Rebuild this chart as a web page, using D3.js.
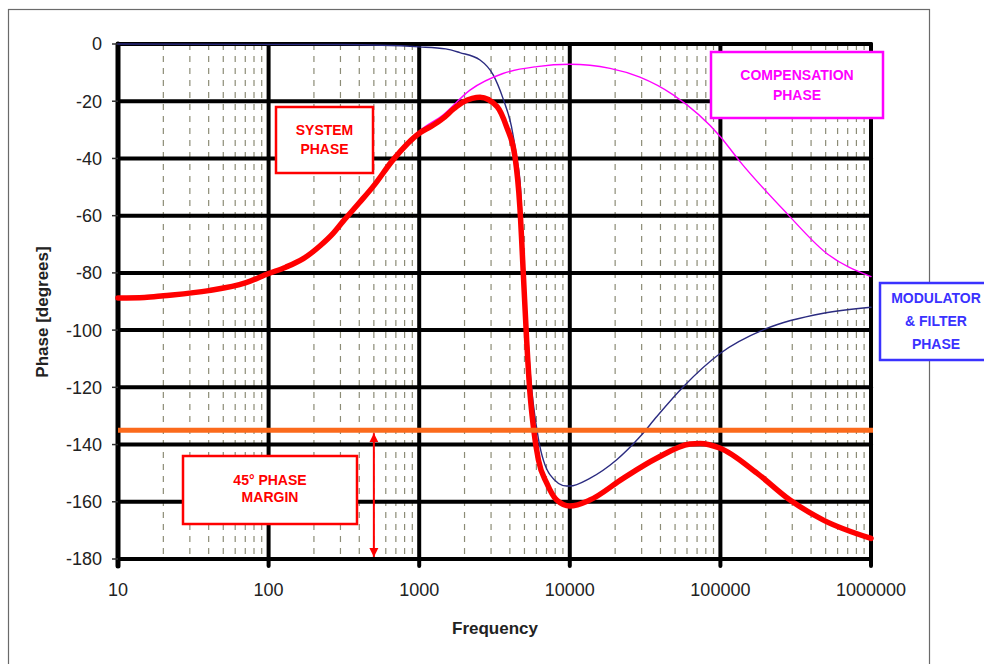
<!DOCTYPE html>
<html>
<head>
<meta charset="utf-8">
<script src="https://cdn.jsdelivr.net/npm/d3@7"></script>
<style>
  body { margin: 0; background: #fff; }
  svg { display: block; }
</style>
</head>
<body>
<div id="chart"></div>
<script>
/////////////////////////////////////////////////////////////
//////////////////////// DATA ///////////////////////////////
/////////////////////////////////////////////////////////////

const freqTicks = [10, 100, 1000, 10000, 100000, 1000000];
const phaseTicks = [0, -20, -40, -60, -80, -100, -120, -140, -160, -180];

//system phase (thick red)
const systemFreq = [10, 15, 20, 40, 70, 100, 130, 170, 220, 270, 312, 400, 500, 670, 1012, 1200, 1438, 1700, 1950, 2250, 2535, 3290, 3800, 4325, 4660, 4910, 5170, 5440, 5730, 6190, 7030, 8180, 10000, 13580, 22600, 37700, 62800, 73300, 100000, 175000, 290000, 483000, 1000000];
const systemPhase = [-88.8, -88.6, -88, -86.2, -83.5, -80.2, -78, -75, -70.5, -66, -62, -55.5, -49.5, -40.5, -31, -28.8, -26, -22.6, -20.3, -19, -18.6, -21.9, -28.9, -39.4, -56.9, -80, -103.5, -122, -133.8, -145.4, -153.5, -159.4, -161.5, -159.4, -151.8, -144.8, -139.8, -139.6, -141.3, -150, -159.4, -166.4, -172.8];

//compensation phase (magenta)
const compFreq = [10, 20, 40, 70, 100, 130, 170, 220, 270, 312, 400, 500, 670, 1000, 1438, 2174, 3600, 6050, 10000, 18500, 29200, 48600, 100000, 135000, 276000, 508000, 1000000];
const compPhase = [-88.8, -88, -86.2, -83.5, -80.2, -78, -75, -70.5, -66, -62, -55.5, -49.5, -40.5, -30.5, -24.8, -16.1, -10.3, -7.9, -7.1, -8.5, -11.6, -17.8, -32.4, -41.1, -59.2, -73.2, -81.3];

//modulator & filter phase (navy)
const modFreq = [10, 300, 1000, 1500, 1860, 2535, 3100, 3600, 4100, 4430, 4700, 4900, 5170, 5440, 5730, 6190, 7400, 9500, 10000, 13580, 20400, 29200, 37700, 56700, 100000, 203000, 483000, 1000000];
const modPhase = [0, -0.2, -1, -1.7, -3, -5.6, -10.8, -19, -28.9, -39.4, -50, -72, -95, -114, -126, -138, -150.6, -154.5, -154.5, -151.8, -145.4, -137.3, -130.3, -119.8, -108.1, -99.4, -94.1, -92];

//phase margin
const marginPhase = -135;
const marginArrowFreq = 500;

/////////////////////////////////////////////////////////////
//////////////////// CONSTANTS //////////////////////////////
/////////////////////////////////////////////////////////////

const WIDTH = 984;
const HEIGHT = 664;
const PLOT = { left: 118, right: 871, top: 44, bottom: 559 };
const FONT = "Arial, 'Liberation Sans', sans-serif";

const COLORS = {
    system: "#ff0000",
    comp: "#ff00ff",
    mod: "#2b2b80",
    margin: "#fb6a1c",
    grid: "#000000",
    minor: "#8c8c76",
    text: "#222222",
    frame: "#6a6a6a"
};

/////////////////////////////////////////////////////////////
///////////////////// Create SVG ////////////////////////////
/////////////////////////////////////////////////////////////

const svg = d3.select("#chart").append("svg")
    .attr("width", WIDTH)
    .attr("height", HEIGHT)
    .style("font-family", FONT);

svg.append("rect")
    .attr("width", WIDTH).attr("height", HEIGHT)
    .attr("fill", "#fff");

//outer frame (runs off the bottom)
svg.append("rect")
    .attr("x", 8.5).attr("y", 9.5)
    .attr("width", 921).attr("height", 680)
    .attr("fill", "none")
    .attr("stroke", COLORS.frame)
    .attr("stroke-width", 1.2);

//scales
const x = d3.scaleLog()
    .domain([10, 1000000])
    .range([PLOT.left, PLOT.right]);

const y = d3.scaleLinear()
    .domain([0, -180])
    .range([PLOT.top, PLOT.bottom]);

/////////////////////////////////////////////////////////////
/////////////////////// Grid ////////////////////////////////
/////////////////////////////////////////////////////////////

const grid = svg.append("g");

//minor dashed verticals 2..9 in each decade
const minorFreqs = [];
freqTicks.slice(0, -1).forEach(d => {
    d3.range(2, 10).forEach(k => minorFreqs.push(d * k));
});

grid.selectAll(".minor")
    .data(minorFreqs)
    .join("line")
    .attr("class", "minor")
    .attr("x1", d => x(d)).attr("x2", d => x(d))
    .attr("y1", PLOT.top).attr("y2", PLOT.bottom)
    .attr("stroke", COLORS.minor)
    .attr("stroke-width", 1.2)
    .attr("stroke-dasharray", "6,6");

//horizontal major lines
grid.selectAll(".hmajor")
    .data(phaseTicks)
    .join("line")
    .attr("class", "hmajor")
    .attr("x1", PLOT.left).attr("x2", PLOT.right)
    .attr("y1", d => y(d)).attr("y2", d => y(d))
    .attr("stroke", COLORS.grid)
    .attr("stroke-width", 4)
    .attr("stroke-linecap", "round");

//vertical decade lines, running a bit below the axis like ticks
grid.selectAll(".vmajor")
    .data(freqTicks)
    .join("line")
    .attr("class", "vmajor")
    .attr("x1", d => x(d)).attr("x2", d => x(d))
    .attr("y1", PLOT.top).attr("y2", PLOT.bottom + 7)
    .attr("stroke", COLORS.grid)
    .attr("stroke-width", d => d === 10 ? 5 : 4)
    .attr("stroke-linecap", "round");

//y tick marks
grid.selectAll(".ytick")
    .data(phaseTicks)
    .join("line")
    .attr("class", "ytick")
    .attr("x1", PLOT.left - 6).attr("x2", PLOT.left)
    .attr("y1", d => y(d)).attr("y2", d => y(d))
    .attr("stroke", "#333")
    .attr("stroke-width", 1.5);

/////////////////////////////////////////////////////////////
///////////////////// Axis labels ///////////////////////////
/////////////////////////////////////////////////////////////

svg.append("g")
    .selectAll("text")
    .data(phaseTicks)
    .join("text")
    .attr("x", 102)
    .attr("y", d => y(d))
    .attr("dy", "0.36em")
    .attr("text-anchor", "end")
    .attr("font-size", 18)
    .attr("fill", COLORS.text)
    .text(d => d);

svg.append("g")
    .selectAll("text")
    .data(freqTicks)
    .join("text")
    .attr("x", d => x(d))
    .attr("y", 596)
    .attr("text-anchor", "middle")
    .attr("font-size", 18)
    .attr("fill", COLORS.text)
    .text(d => d);

svg.append("text")
    .attr("x", 495).attr("y", 634)
    .attr("text-anchor", "middle")
    .attr("font-size", 17)
    .attr("font-weight", "bold")
    .attr("fill", COLORS.text)
    .text("Frequency");

svg.append("text")
    .attr("transform", "translate(48,312) rotate(-90)")
    .attr("text-anchor", "middle")
    .attr("font-size", 17)
    .attr("font-weight", "bold")
    .attr("fill", COLORS.text)
    .text("Phase [degrees]");

/////////////////////////////////////////////////////////////
////////////////////// Series ///////////////////////////////
/////////////////////////////////////////////////////////////

const line = d3.line()
    .x(d => x(d[0]))
    .y(d => y(d[1]))
    .curve(d3.curveMonotoneX);

const series = [
    { freq: modFreq, phase: modPhase, color: COLORS.mod, width: 1.4 },
    { freq: compFreq, phase: compPhase, color: COLORS.comp, width: 1.4 },
    { freq: systemFreq, phase: systemPhase, color: COLORS.system, width: 5.5 }
];

svg.append("g")
    .selectAll("path")
    .data(series)
    .join("path")
    .attr("d", s => line(d3.zip(s.freq, s.phase)))
    .attr("fill", "none")
    .attr("stroke", s => s.color)
    .attr("stroke-width", s => s.width)
    .attr("stroke-linejoin", "round")
    .attr("stroke-linecap", "round");

//45 deg phase margin line
svg.append("line")
    .attr("x1", PLOT.left).attr("x2", PLOT.right + 2)
    .attr("y1", y(marginPhase)).attr("y2", y(marginPhase))
    .attr("stroke", COLORS.margin)
    .attr("stroke-width", 5);

//double arrow margin
const defs = svg.append("defs");
defs.append("marker")
    .attr("id", "arrow")
    .attr("viewBox", "0 0 10 10")
    .attr("refX", 10).attr("refY", 5)
    .attr("markerWidth", 4.5).attr("markerHeight", 7)
    .attr("markerUnits", "strokeWidth")
    .attr("orient", "auto-start-reverse")
    .append("path")
    .attr("d", "M0,0L10,5L0,10Z")
    .attr("fill", COLORS.system);

svg.append("line")
    .attr("x1", x(marginArrowFreq)).attr("x2", x(marginArrowFreq))
    .attr("y1", y(marginPhase) + 3).attr("y2", y(-180) - 2)
    .attr("stroke", COLORS.system)
    .attr("stroke-width", 2)
    .attr("marker-start", "url(#arrow)")
    .attr("marker-end", "url(#arrow)");

/////////////////////////////////////////////////////////////
//////////////////// Annotations ////////////////////////////
/////////////////////////////////////////////////////////////

const notes = [
    { x: 276, y: 107, w: 97, h: 66, color: COLORS.system, lines: ["SYSTEM", "PHASE"], base: 135, step: 19 },
    { x: 711, y: 52, w: 172, h: 66, color: COLORS.comp, lines: ["COMPENSATION", "PHASE"], base: 80, step: 20 },
    { x: 880, y: 283, w: 110, h: 77, color: "#3a32ff", lines: ["MODULATOR", "& FILTER", "PHASE"], base: 303, step: 23, cx: 936 },
    { x: 183, y: 456, w: 174, h: 68, color: COLORS.system, lines: ["45\u00B0 PHASE", "MARGIN"], base: 485, step: 17 }
];

const note = svg.append("g")
    .selectAll("g")
    .data(notes)
    .join("g");

note.append("rect")
    .attr("x", d => d.x).attr("y", d => d.y)
    .attr("width", d => d.w).attr("height", d => d.h)
    .attr("fill", "#fff")
    .attr("stroke", d => d.color)
    .attr("stroke-width", 2.5);

note.each(function(d) {
    d3.select(this).selectAll("text")
        .data(d.lines)
        .join("text")
        .attr("x", d.cx || d.x + d.w / 2)
        .attr("y", (t, i) => d.base + i * d.step)
        .attr("text-anchor", "middle")
        .attr("font-size", 14)
        .attr("font-weight", "bold")
        .attr("fill", d.color)
        .text(t => t);
});
</script>
</body>
</html>
